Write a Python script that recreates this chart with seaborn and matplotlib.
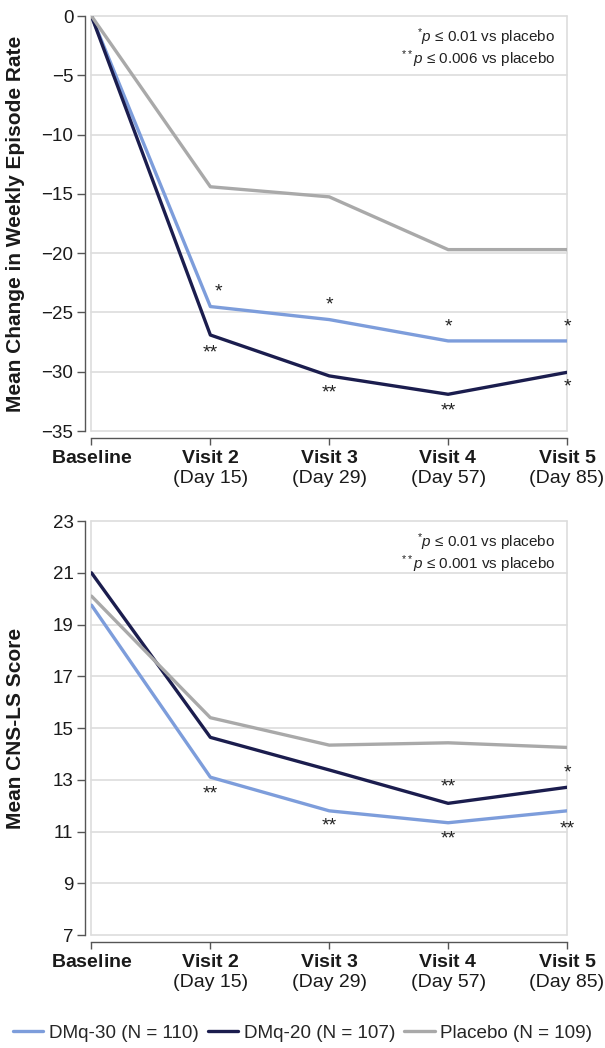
import pandas as pd
import seaborn as sns
import matplotlib.pyplot as plt

visits = ["Baseline", "Visit 2", "Visit 3", "Visit 4", "Visit 5"]
days = ["", "(Day 15)", "(Day 29)", "(Day 57)", "(Day 85)"]
groups = ["DMq-30 (N = 110)", "DMq-20 (N = 107)", "Placebo (N = 109)"]
colors = ["#7d9ddb", "#1b1d4e", "#a9a9a9"]

# top panel: mean change in weekly episode rate
episode_dmq30 = [0, -24.5, -25.6, -27.4, -27.4]
episode_dmq20 = [0, -26.9, -30.35, -31.9, -30.05]
episode_placebo = [0, -14.4, -15.25, -19.7, -19.7]

# bottom panel: mean CNS-LS score
cnsls_dmq30 = [19.75, 13.1, 11.8, 11.34, 11.8]
cnsls_dmq20 = [21.0, 14.64, 13.38, 12.09, 12.71]
cnsls_placebo = [20.1, 15.4, 14.34, 14.43, 14.25]

# significance markers (visit index, y, label)
episode_stars = [(1.07, -23.3, "*"), (1, -28.4, "**"), (2, -24.4, "*"), (2, -31.8, "**"),
                 (3, -26.2, "*"), (3, -33.3, "**"), (4, -26.2, "*"), (4, -31.3, "*")]
cnsls_stars = [(1, 12.44, "**"), (2, 11.21, "**"), (3, 12.71, "**"), (3, 10.7, "**"),
               (4, 13.25, "*"), (4, 11.08, "**")]

sns.set_theme(style="white")
plt.rcParams["font.family"] = ["Liberation Sans", "DejaVu Sans"]
plt.rcParams["mathtext.fontset"] = "custom"
plt.rcParams["mathtext.rm"] = "Liberation Sans"
plt.rcParams["mathtext.it"] = "Liberation Sans:italic"
plt.rcParams["mathtext.bf"] = "Liberation Sans:bold"

def long_df(a, b, c):
    rows = []
    for g, vals in zip(groups, [a, b, c]):
        for i, v in enumerate(vals):
            rows.append({"x": i, "y": v, "group": g})
    return pd.DataFrame(rows)

fig = plt.figure(figsize=(6.05, 10.48), dpi=100)
ax1 = fig.add_axes([0.1512, 0.5887, 0.786, 0.396])
ax2 = fig.add_axes([0.1512, 0.1078, 0.786, 0.395])

panels = [
    (ax1, long_df(episode_dmq30, episode_dmq20, episode_placebo), (-35, 0), range(-35, 1, 5),
     "Mean Change in Weekly Episode Rate", episode_stars,
     ["$^{*}$$\\it{p}$ \u2264 0.01 vs placebo", "$^{**}$$\\it{p}$ \u2264 0.006 vs placebo"]),
    (ax2, long_df(cnsls_dmq30, cnsls_dmq20, cnsls_placebo), (7, 23), range(7, 24, 2),
     "Mean CNS-LS Score", cnsls_stars,
     ["$^{*}$$\\it{p}$ \u2264 0.01 vs placebo", "$^{**}$$\\it{p}$ \u2264 0.001 vs placebo"]),
]

ticklabels = ["$\\bf{" + v.replace(" ", "\\ ") + "}$" + ("\n" + d if d else "")
              for v, d in zip(visits, days)]

for ax, df, ylim, yticks, ylabel, stars, notes in panels:
    sns.lineplot(data=df, x="x", y="y", hue="group", palette=colors, linewidth=2.4,
                 ax=ax, legend=(ax is ax2), sort=False)
    ax.set_xlim(0, 4)
    ax.set_ylim(*ylim)
    ax.set_yticks(list(yticks))
    ax.set_xticks(range(5))
    sns.despine(ax=ax, offset=5, trim=True)
    ax.set_xlim(0, 4)
    ax.set_ylim(*ylim)
    ax.set_xticks(range(5))
    ax.set_xticklabels(ticklabels, fontsize=14, color="#1a1a1a", linespacing=1.2)
    ax.tick_params(axis="y", labelsize=13.5, colors="#1a1a1a", length=6, width=1,
                   left=True, color="#555555", pad=2)
    ax.tick_params(axis="x", length=5, width=1, bottom=True, color="#555555", pad=4)
    for t in yticks:
        ax.axhline(t, color="#dddddd", linewidth=1.2, zorder=0, clip_on=False)
    ax.axvline(0, color="#dddddd", linewidth=1.2, zorder=0, clip_on=False)
    ax.axvline(4, color="#dddddd", linewidth=1.2, zorder=0, clip_on=False)
    for s in ["left", "bottom"]:
        ax.spines[s].set_color("#555555")
        ax.spines[s].set_linewidth(1)
    ax.set_xlabel("")
    ax.set_ylabel(ylabel, fontsize=15, fontweight="bold", color="#1a1a1a")
    ax.yaxis.set_label_coords(-0.14, 0.5)
    for x, y, s in stars:
        ax.text(x, y, s, ha="center", va="center", fontsize=14, color="#222222")
    ax.text(0.975, 0.948, notes[0], transform=ax.transAxes, ha="right", va="center",
            fontsize=11, color="#222222")
    ax.text(0.975, 0.895, notes[1], transform=ax.transAxes, ha="right", va="center",
            fontsize=11, color="#222222")

handles, labels = ax2.get_legend_handles_labels()
ax2.get_legend().remove()
fig.legend(handles, labels, loc="center", bbox_to_anchor=(0.5, 0.0143), ncol=3,
           frameon=False, fontsize=13.6, handlelength=1.6, handletextpad=0.3,
           columnspacing=0.5, borderaxespad=0)

fig.savefig("out.png", dpi=100)
